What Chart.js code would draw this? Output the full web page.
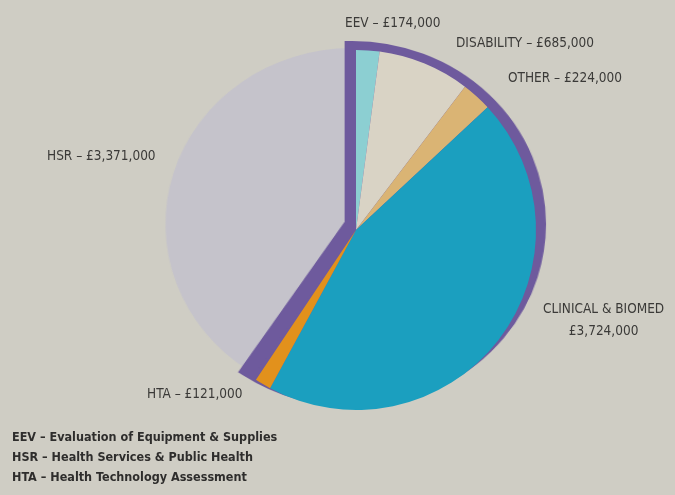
<!DOCTYPE html>
<html>
<head>
<meta charset="utf-8">
<script src="https://cdn.jsdelivr.net/npm/chart.js@4"></script>
<style>
  html, body { margin:0; padding:0; }
  body { width:675px; height:495px; background:#cfcdc4; position:relative; overflow:hidden;
         font-family:"Liberation Sans Narrow","DejaVu Sans Condensed",sans-serif; color:#3b3a38; }
  canvas { position:absolute; left:0; top:0; }
  /* the printed pie was photographed slightly wide */
  #back { transform:scaleX(1.06); transform-origin:352px 0; }
  .lbl { position:absolute; font-size:13.5px; white-space:nowrap; line-height:22px; }
  .key { position:absolute; left:12px; font-size:12.5px; font-weight:bold; white-space:nowrap; color:#2e2d2c; }
</style>
</head>
<body>
<canvas id="back" width="675" height="495"></canvas>
<canvas id="front" width="675" height="495"></canvas>

<script>
/* funding split: slices clockwise from 12 o'clock */
const categories = ['EEV', 'DISABILITY', 'OTHER', 'CLINICAL & BIOMED', 'HTA', 'HSR'];
const amounts    = [174000, 685000, 224000, 3724000, 121000, 3371000];
const sliceColors = ['#8ccfd2', '#d9d3c5', '#dab474', '#1b9fbf', '#e2911c', '#c5c3cb'];

// HSR sits on its own, the rest sit on a purple backing wedge
const standalone = 'HSR';
const purple = '#6e5a9d';

const glossary = [
  'EEV – Evaluation of Equipment & Supplies',
  'HSR – Health Services & Public Health',
  'HTA – Health Technology Assessment'
];

const money = v => '£' + v.toLocaleString('en-GB');

// label placements (px)
const labelPos = {
  'EEV':               { left:345, top:11 },
  'DISABILITY':        { left:456, top:31 },
  'OTHER':             { left:508, top:66 },
  'HSR':               { left:47,  top:144 },
  'CLINICAL & BIOMED': { left:543, top:297, split:true },
  'HTA':               { left:147, top:382 }
};

categories.forEach((c, i) => {
  const p = labelPos[c];
  const d = document.createElement('div');
  d.className = 'lbl';
  d.style.left = p.left + 'px';
  d.style.top = p.top + 'px';
  if (p.split) {
    d.style.textAlign = 'center';
    d.innerHTML = c.replace('&', '&amp;') + '<br>' + money(amounts[i]);
  } else {
    d.textContent = c + ' – ' + money(amounts[i]);
  }
  document.body.appendChild(d);
});

glossary.forEach((t, i) => {
  const d = document.createElement('div');
  d.className = 'key';
  d.style.top = (429 + i * 20) + 'px';
  d.textContent = t;
  document.body.appendChild(d);
});

function opts(pad, radius, rotation){
  return {
    responsive:false,
    animation:false,
    radius,
    rotation,
    layout:{ padding:pad },
    plugins:{ legend:{ display:false }, tooltip:{ enabled:false } }
  };
}

const total    = amounts.reduce((a, b) => a + b, 0);
const soloSum  = amounts[categories.indexOf(standalone)];
const groupSum = total - soloSum;

// back layer: HSR first (rotated into place), then the purple wedge whose thick
// border spills over the HSR edge and round the outside
new Chart(document.getElementById('back'), {
  type:'pie',
  data:{
    labels:[standalone, 'group'],
    datasets:[{
      data:[soloSum, groupSum],
      backgroundColor:[sliceColors[categories.indexOf(standalone)], purple],
      borderColor:['rgba(0,0,0,0)', purple],
      borderWidth:[0, 14],
      borderJoinStyle:'miter'
    }]
  },
  options:opts({ left:152, right:123, top:24, bottom:71 }, 176, 360 - 360 * soloSum / total)
});

// front layer: the grouped slices, sitting a little low on the purple wedge
new Chart(document.getElementById('front'), {
  type:'pie',
  data:{
    labels:categories,
    datasets:[{
      data:amounts,
      backgroundColor:categories.map((c, i) => c === standalone ? 'rgba(0,0,0,0)' : sliceColors[i]),
      borderWidth:0
    }]
  },
  options:opts({ left:156, right:119, top:30, bottom:65 }, 180, 0)
});
</script>
</body>
</html>
